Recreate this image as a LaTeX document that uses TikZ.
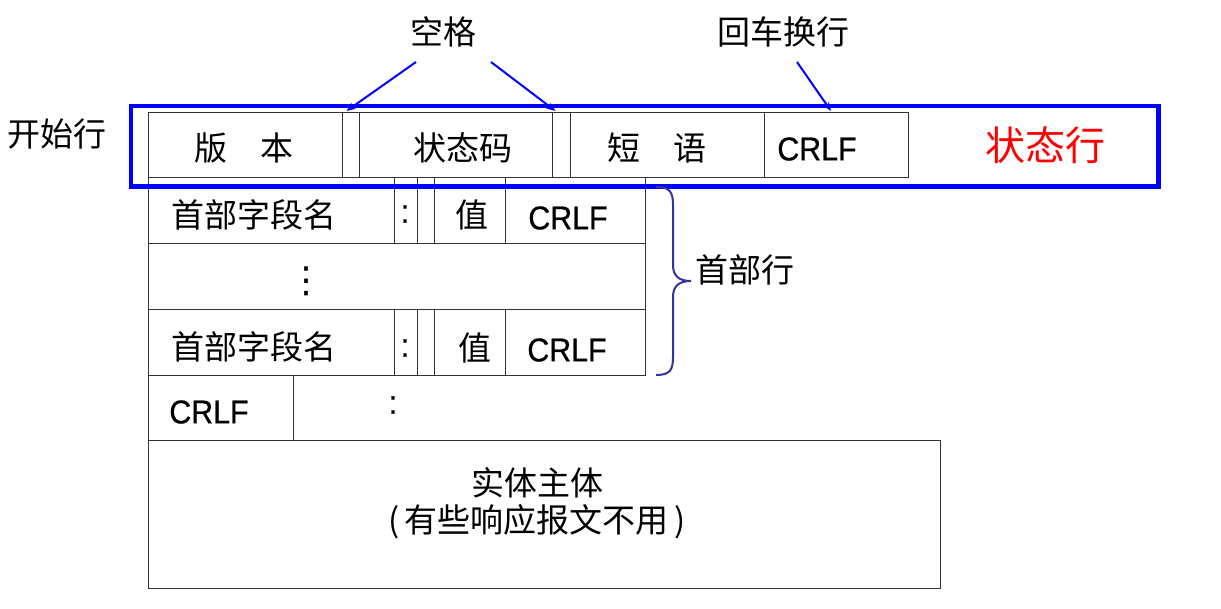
\documentclass[tikz,border=0pt]{standalone}
\usepackage{fontspec}
\setmainfont{Noto Sans CJK SC}
\newfontfamily\lat[FakeStretch=0.92,FakeBold=0.6]{Liberation Sans}
\newfontfamily\djv{DejaVu Sans}
\usetikzlibrary{arrows.meta}
\definecolor{bracecol}{RGB}{50,50,160}
\definecolor{boxline}{RGB}{50,50,50}
\newcommand{\mkcell}[5]{%
  \node[cell, minimum width=#4pt-#2pt, minimum height=#5pt-#3pt, anchor=north west] (#1) at (#2,#3) {};}
\tikzset{
  cell/.style={draw=boxline, line width=1pt, inner sep=0pt, outer sep=0pt},
  txt/.style={inner sep=0pt, font=\fontsize{33}{36}\selectfont},
  lattxt/.style={inner sep=0pt, font=\lat\fontsize{33}{36}\selectfont},
  ptr/.style={draw=blue, line width=2pt, -{Stealth[length=9pt,width=7pt]}},
}
\begin{document}
\begin{tikzpicture}[x=1pt,y=-1pt]
\useasboundingbox (0,0) rectangle (1221,608);
% status line
\mkcell{c1}{148}{112}{342}{177}
\mkcell{sp1}{342}{112}{359}{177}
\mkcell{c2}{359}{112}{552}{177}
\mkcell{sp2}{552}{112}{570}{177}
\mkcell{c3}{570}{112}{764}{177}
\mkcell{c4}{764}{112}{908}{177}
% header line 1
\mkcell{h1n}{148}{177}{394}{243}
\mkcell{h1c}{394}{177}{417}{243}
\mkcell{h1s}{417}{177}{434}{243}
\mkcell{h1v}{434}{177}{505}{243}
\mkcell{h1r}{505}{177}{645}{243}
% dots row
\mkcell{h2}{148}{243}{645}{309}
% header line 3
\mkcell{h3n}{148}{309}{394}{375}
\mkcell{h3c}{394}{309}{417}{375}
\mkcell{h3s}{417}{309}{434}{375}
\mkcell{h3v}{434}{309}{505}{375}
\mkcell{h3r}{505}{309}{645}{375}
% blank line
\mkcell{bl}{148}{375}{293}{440}
% entity body
\mkcell{body}{148}{440}{940}{588}
% blue status box
\node[draw=blue, line width=4.5pt, inner sep=0pt, minimum width=1027.5pt, minimum height=80.5pt, anchor=north west] (statusbox) at (128.5,103.5) {};

% texts
\node[txt] (t1) at (244,148) {版　本};
\node[txt] (t2) at (463,148) {状态码};
\node[txt] (t3) at (657,148) {短　语};
\node[lattxt] (t4) at (817,149) {CRLF};
\node[txt, text=red, font=\fontsize{40}{44}\selectfont] (zt) at (1045,145) {状态行};
\node[txt] (ks) at (57,134) {开始行};

\node[txt] (n1) at (254,215) {首部字段名};
\node[lattxt] (k1) at (405,214) {:};
\node[txt] (v1) at (472,215) {值};
\node[lattxt] (r1) at (568,218) {CRLF};

\node[inner sep=0pt, font=\djv\fontsize{36}{40}\selectfont] (dots) at (306,281) {⋮};

\node[txt] (n3) at (254,347) {首部字段名};
\node[lattxt] (k3) at (405,348) {:};
\node[txt] (v3) at (475,348) {值};
\node[lattxt] (r3) at (567,350) {CRLF};

\node[lattxt] (r4) at (209,412) {CRLF};
\node[lattxt] (k4) at (393,405) {:};

\node[txt] (b1) at (537,483) {实体主体};
\node[txt] (b2) at (537,522) {(\,有些响应报文不用\,)};

\node[txt] (kg) at (443,32) {空格};
\node[txt] (hc) at (783,32) {回车换行};
\node[txt] (sb) at (745,270) {首部行};

% pointers
\coordinate (kgL) at (416,62);
\coordinate (kgR) at (491,62);
\coordinate (hcS) at (797,62);
\coordinate (tipL) at (346.5,111);
\coordinate (tipR) at (555.5,111);
\coordinate (tipC) at (831,111);
\draw[ptr] (kgL) -- (tipL);
\draw[ptr] (kgR) -- (tipR);
\draw[ptr] (hcS) -- (tipC);

% brace
\draw[bracecol, line width=2pt] (656,187) .. controls (670,187) and (673,192) .. (673,205)
  -- (673,265) .. controls (673,276) and (679,281) .. (691,281)
  .. controls (679,281) and (673,286) .. (673,297)
  -- (673,357) .. controls (673,370) and (670,375) .. (656,375);
\end{tikzpicture}
\end{document}
